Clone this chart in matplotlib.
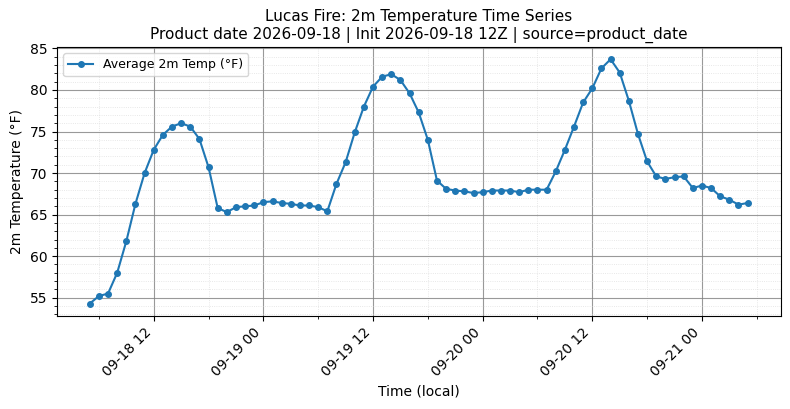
import numpy as np
import pandas as pd
import matplotlib
matplotlib.use("Agg")
import matplotlib.pyplot as plt
import matplotlib.dates as mdates
from matplotlib.ticker import MultipleLocator

# hourly local times, 09-18 05:00 -> 09-21 05:00
times = pd.date_range("2026-09-18 05:00", "2026-09-21 05:00", freq="h")

temps_f = [
    54.3, 55.2, 55.5, 58.0, 61.8, 66.3, 70.0, 72.8, 74.6, 75.6,
    76.0, 75.6, 74.1, 70.7, 65.8, 65.3, 65.9, 66.0, 66.1, 66.5,
    66.6, 66.4, 66.3, 66.1, 66.1, 65.9, 65.4, 68.7, 71.3, 74.9,
    78.0, 80.4, 81.6, 81.9, 81.2, 79.6, 77.3, 74.0, 69.1, 68.1,
    67.9, 67.8, 67.6, 67.7, 67.9, 67.9, 67.9, 67.7, 68.0, 68.0,
    68.0, 70.2, 72.8, 75.6, 78.5, 80.2, 82.6, 83.7, 82.1, 78.7,
    74.7, 71.4, 69.6, 69.3, 69.5, 69.6, 68.2, 68.5, 68.2, 67.2,
    66.8, 66.2, 66.4,
]

fig, ax = plt.subplots(figsize=(7.9, 4.09), dpi=100)
ax.plot(times, temps_f, marker="o", markersize=4, linewidth=1.5,
        color="#1f77b4", label="Average 2m Temp (°F)")

ax.set_title("Lucas Fire: 2m Temperature Time Series\n"
             "Product date 2026-09-18 | Init 2026-09-18 12Z | source=product_date",
             fontsize=11)
ax.set_xlabel("Time (local)")
ax.set_ylabel("2m Temperature (°F)")

ax.xaxis.set_major_locator(mdates.HourLocator(byhour=[0, 12]))
ax.xaxis.set_minor_locator(mdates.HourLocator(byhour=[6, 18]))
ax.xaxis.set_major_formatter(mdates.DateFormatter("%m-%d %H"))
ax.yaxis.set_minor_locator(MultipleLocator(1))

ax.grid(which="major", color="gray", alpha=0.8, linewidth=0.8)
ax.grid(which="minor", color="lightgray", linestyle=":", alpha=0.7, linewidth=0.6)
ax.legend(loc="upper left", fontsize=9)

plt.setp(ax.get_xticklabels(), rotation=45, ha="right")
fig.subplots_adjust(left=0.072, right=0.988, top=0.885, bottom=0.228)
fig.savefig("out.png", dpi=100)
